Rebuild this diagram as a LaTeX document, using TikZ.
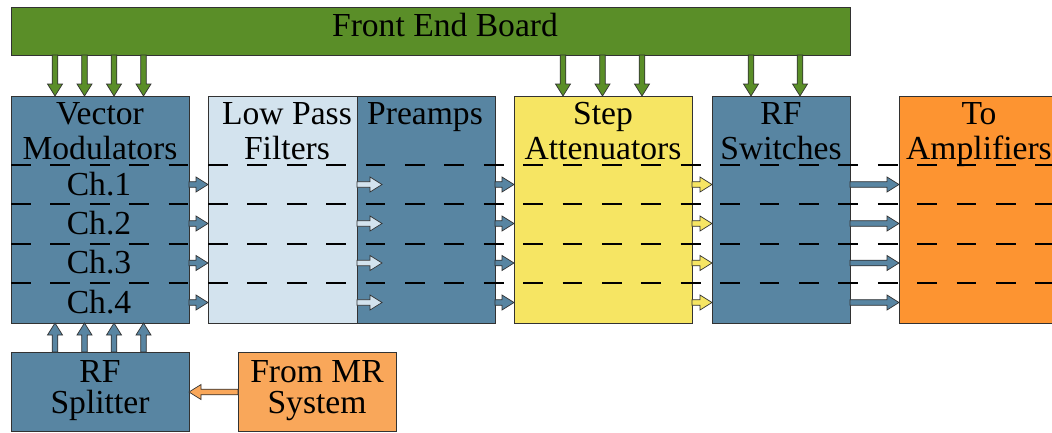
\documentclass[tikz,border=0pt]{standalone}
\usepackage{fontspec}
\setmainfont{Liberation Serif}
\usetikzlibrary{calc}

\definecolor{boardgreen}{RGB}{90,142,40}
\definecolor{steel}{RGB}{88,133,162}
\definecolor{paleblue}{RGB}{211,227,238}
\definecolor{sun}{RGB}{246,229,99}
\definecolor{amber}{RGB}{253,148,49}
\definecolor{peach}{RGB}{249,167,90}
\definecolor{edge}{RGB}{50,50,50}

\tikzset{
  blk/.style={draw=edge, line width=0.8pt, rectangle, inner sep=0pt, outer sep=0pt, anchor=north west},
  lbl/.style={font=\fontsize{33.6}{35}\selectfont, inner sep=0pt, anchor=base, text=black},
  chline/.style={line width=2pt, black, dash pattern=on 19.7pt off 19.7pt},
  % block arrow drawn as an outlined polygon between two points
  fat/.style={draw=edge, line width=0.7pt, line join=miter, to path={
    let \p1=(\tikztostart), \p2=(\tikztotarget),
        \n1={atan2(\y2-\y1,\x2-\x1)}, \n2={veclen(\x2-\x1,\y2-\y1)} in
    ([shift={(\p1)},rotate=\n1]0pt,2.8pt)
    -- ([shift={(\p1)},rotate=\n1]{\n2-12pt},2.8pt)
    -- ([shift={(\p1)},rotate=\n1]{\n2-12pt},7.5pt)
    -- (\p2)
    -- ([shift={(\p1)},rotate=\n1]{\n2-12pt},-7.5pt)
    -- ([shift={(\p1)},rotate=\n1]{\n2-12pt},-2.8pt)
    -- ([shift={(\p1)},rotate=\n1]0pt,-2.8pt) -- cycle}},
}

\begin{document}
\begin{tikzpicture}[x=1pt,y=-1pt]
\clip (0,0) rectangle (1052,432);
\fill[white] (0,0) rectangle (1052,432);

% blocks
\node[blk, fill=boardgreen, minimum width=839pt, minimum height=48pt] (board) at (11,7) {};
\node[blk, fill=steel, minimum width=178pt, minimum height=227pt] (vm) at (11,96) {};
\node[blk, fill=paleblue, minimum width=149pt, minimum height=227pt] (lpf) at (208,96) {};
\node[blk, fill=steel, minimum width=138pt, minimum height=227pt] (pre) at (357,96) {};
\node[blk, fill=sun, minimum width=178pt, minimum height=227pt] (att) at (514,96) {};
\node[blk, fill=steel, minimum width=138pt, minimum height=227pt] (sw) at (712,96) {};
\node[blk, fill=amber, minimum width=171pt, minimum height=227pt] (amp) at (899,96) {};
\node[blk, fill=steel, minimum width=178pt, minimum height=79pt] (split) at (11,352) {};
\node[blk, fill=peach, minimum width=158pt, minimum height=79pt] (mr) at (238,352) {};

% channel separators
\foreach \yy in {165,204,243.5,283}
  \draw[chline] (11,\yy) -- (1060,\yy);

% row and column references
\coordinate (r1) at (0,184.5);
\coordinate (r2) at (0,223.5);
\coordinate (r3) at (0,263);
\coordinate (r4) at (0,302.5);
\coordinate (mrrow) at (0,392);
\foreach \c/\xx in {a/55,b/84.5,c/114,d/143.5,e/563,f/602.5,g/642,h/751,i/800}
  \coordinate (k\c) at (\xx,0);

% control lines from the board
\foreach \c in {a,b,c,d}
  \draw[fat, fill=boardgreen] (board.south -| k\c) to (vm.north -| k\c);
\foreach \c in {e,f,g}
  \draw[fat, fill=boardgreen] (board.south -| k\c) to (att.north -| k\c);
\foreach \c in {h,i}
  \draw[fat, fill=boardgreen] (board.south -| k\c) to (sw.north -| k\c);

% splitter outputs
\foreach \c in {a,b,c,d}
  \draw[fat, fill=steel] (split.north -| k\c) to (vm.south -| k\c);

% signal chain per channel
\foreach \r in {r1,r2,r3,r4}{
  \draw[fat, fill=steel] (vm.east |- \r) to (lpf.west |- \r);
  \draw[fat, fill=paleblue] (lpf.east |- \r) to ($(lpf.east |- \r)+(25,0)$);
  \draw[fat, fill=steel] (pre.east |- \r) to (att.west |- \r);
  \draw[fat, fill=sun] (att.east |- \r) to (sw.west |- \r);
  \draw[fat, fill=steel] (sw.east |- \r) to (amp.west |- \r);
}

% input from the MR system
\draw[fat, fill=peach] (mr.west |- mrrow) to (split.east |- mrrow);

% labels
\node[lbl] (tboard) at (445,36) {Front End Board};
\node[lbl] (tvm1) at (100,124) {Vector};
\node[lbl] (tvm2) at (100,159) {Modulators};
\node[lbl] (tch1) at (99,195) {Ch.1};
\node[lbl] (tch2) at (99,234) {Ch.2};
\node[lbl] (tch3) at (99,273) {Ch.3};
\node[lbl] (tch4) at (99,313) {Ch.4};
\node[lbl] (tlpf1) at (287,124) {Low Pass};
\node[lbl] (tlpf2) at (287,159) {Filters};
\node[lbl] (tpre) at (425,124) {Preamps};
\node[lbl] (tatt1) at (603,124) {Step};
\node[lbl] (tatt2) at (603,159) {Attenuators};
\node[lbl] (tsw1) at (781,124) {RF};
\node[lbl] (tsw2) at (781,159) {Switches};
\node[lbl] (tamp1) at (979,124) {To};
\node[lbl] (tamp2) at (979,159) {Amplifiers};
\node[lbl] (tsp1) at (100,382) {RF};
\node[lbl] (tsp2) at (100,413) {Splitter};
\node[lbl] (tmr1) at (317,382) {From MR};
\node[lbl] (tmr2) at (317,413) {System};
\end{tikzpicture}
\end{document}
